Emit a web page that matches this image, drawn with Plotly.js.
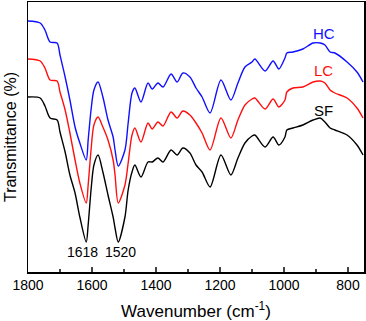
<!DOCTYPE html>
<html>
<head>
<meta charset="utf-8">
<script src="https://cdn.plot.ly/plotly-3.0.1.min.js"></script>
<style>
  html, body { margin: 0; padding: 0; background: #fff; }
  #plot { width: 366px; height: 321px; }
</style>
</head>
<body>
<div id="plot"></div>
<script>
// wavenumbers (cm-1), shared by all three spectra
var wavenumber = [1800, 1762, 1747, 1731, 1709, 1700, 1684, 1669, 1653, 1638, 1618, 1612, 1603, 1594, 1581,
  1566, 1550, 1534, 1528, 1518, 1497, 1487, 1475, 1466, 1447, 1425, 1412, 1394, 1378, 1353, 1334, 1316,
  1294, 1275, 1256, 1231, 1197, 1166, 1144, 1122, 1100, 1091, 1059, 1034, 1016, 997, 991, 972, 941, 909,
  887, 872, 856, 841, 803, 772, 753];

// transmittance, arbitrary units (spectra are stacked)
var hc = [251, 249, 242, 230, 229, 217, 195, 172, 145, 129, 112, 132, 162, 182, 190,
  175, 152, 135, 122, 106, 122, 149, 179, 184, 170, 189, 183, 189, 185, 198, 190, 199,
  195, 184, 175, 159, 192, 172, 189, 205, 210, 213, 201, 211, 203, 214, 219, 220, 223, 229,
  229, 227, 220, 219, 210, 200, 190];

var lc = [213, 211, 204, 192, 191, 180, 162, 139, 112, 89, 69, 87, 122, 147, 155,
  145, 132, 112, 97, 69, 87, 109, 137, 144, 130, 149, 143, 150, 146, 160, 154, 161,
  157, 149, 139, 122, 154, 134, 152, 167, 173, 174, 163, 173, 165, 172, 180, 184, 185, 190,
  191, 189, 182, 179, 174, 164, 154];

var sf = [175, 174, 166, 154, 152, 140, 120, 97, 79, 55, 30, 47, 82, 107, 117,
  100, 77, 55, 44, 30, 55, 82, 100, 107, 95, 110, 110, 114, 110, 122, 117, 124,
  119, 107, 100, 85, 117, 97, 114, 129, 136, 137, 125, 135, 127, 135, 142, 144, 147, 152,
  154, 150, 144, 142, 137, 127, 117];

var names = ["HC", "LC", "SF"];
var colors = ["#1010ff", "#ff1010", "#000000"];
var series = [hc, lc, sf];

var data = series.map(function (ys, i) {
  return {
    x: wavenumber,
    y: ys,
    name: names[i],
    type: "scatter",
    mode: "lines",
    line: {color: colors[i], width: 1.4, shape: "spline", smoothing: 0.8}
  };
});

var fnt = "Liberation Sans, Arial, sans-serif";

var layout = {
  width: 366,
  height: 321,
  margin: {l: 28, r: 2, t: 2, b: 49},
  paper_bgcolor: "#fff",
  plot_bgcolor: "#fff",
  showlegend: false,
  font: {family: fnt, color: "#000", size: 14},
  xaxis: {
    range: [1800, 750],
    tickvals: [1800, 1600, 1400, 1200, 1000, 800],
    ticks: "inside",
    ticklen: 5,
    tickwidth: 1.3,
    minor: {dtick: 100, ticks: "inside", ticklen: 3, tickwidth: 1.3},
    showgrid: false,
    zeroline: false,
    showline: true,
    mirror: true,
    linecolor: "#000",
    linewidth: 1.5,
    tickfont: {size: 14},
    title: {text: "Wavenumber (cm<sup>-1</sup>)", font: {size: 17}, standoff: 14}
  },
  yaxis: {
    range: [0, 270],
    showticklabels: false,
    ticks: "",
    showgrid: false,
    zeroline: false,
    showline: true,
    mirror: true,
    linecolor: "#000",
    linewidth: 1.5,
    title: {text: "Transmittance (%)", font: {size: 16}, standoff: 6}
  },
  annotations: [
    {x: 1618, y: 20, text: "1618", showarrow: false, font: {size: 14}, xshift: -4},
    {x: 1518, y: 20, text: "1520", showarrow: false, font: {size: 14}, xshift: 2},
    {x: 876, y: 239, text: "HC", showarrow: false, font: {size: 15, color: colors[0]}},
    {x: 876, y: 202, text: "LC", showarrow: false, font: {size: 15, color: colors[1]}},
    {x: 876, y: 162, text: "SF", showarrow: false, font: {size: 15, color: colors[2]}}
  ]
};

Plotly.newPlot("plot", data, layout, {displayModeBar: false, staticPlot: true});
</script>
</body>
</html>
